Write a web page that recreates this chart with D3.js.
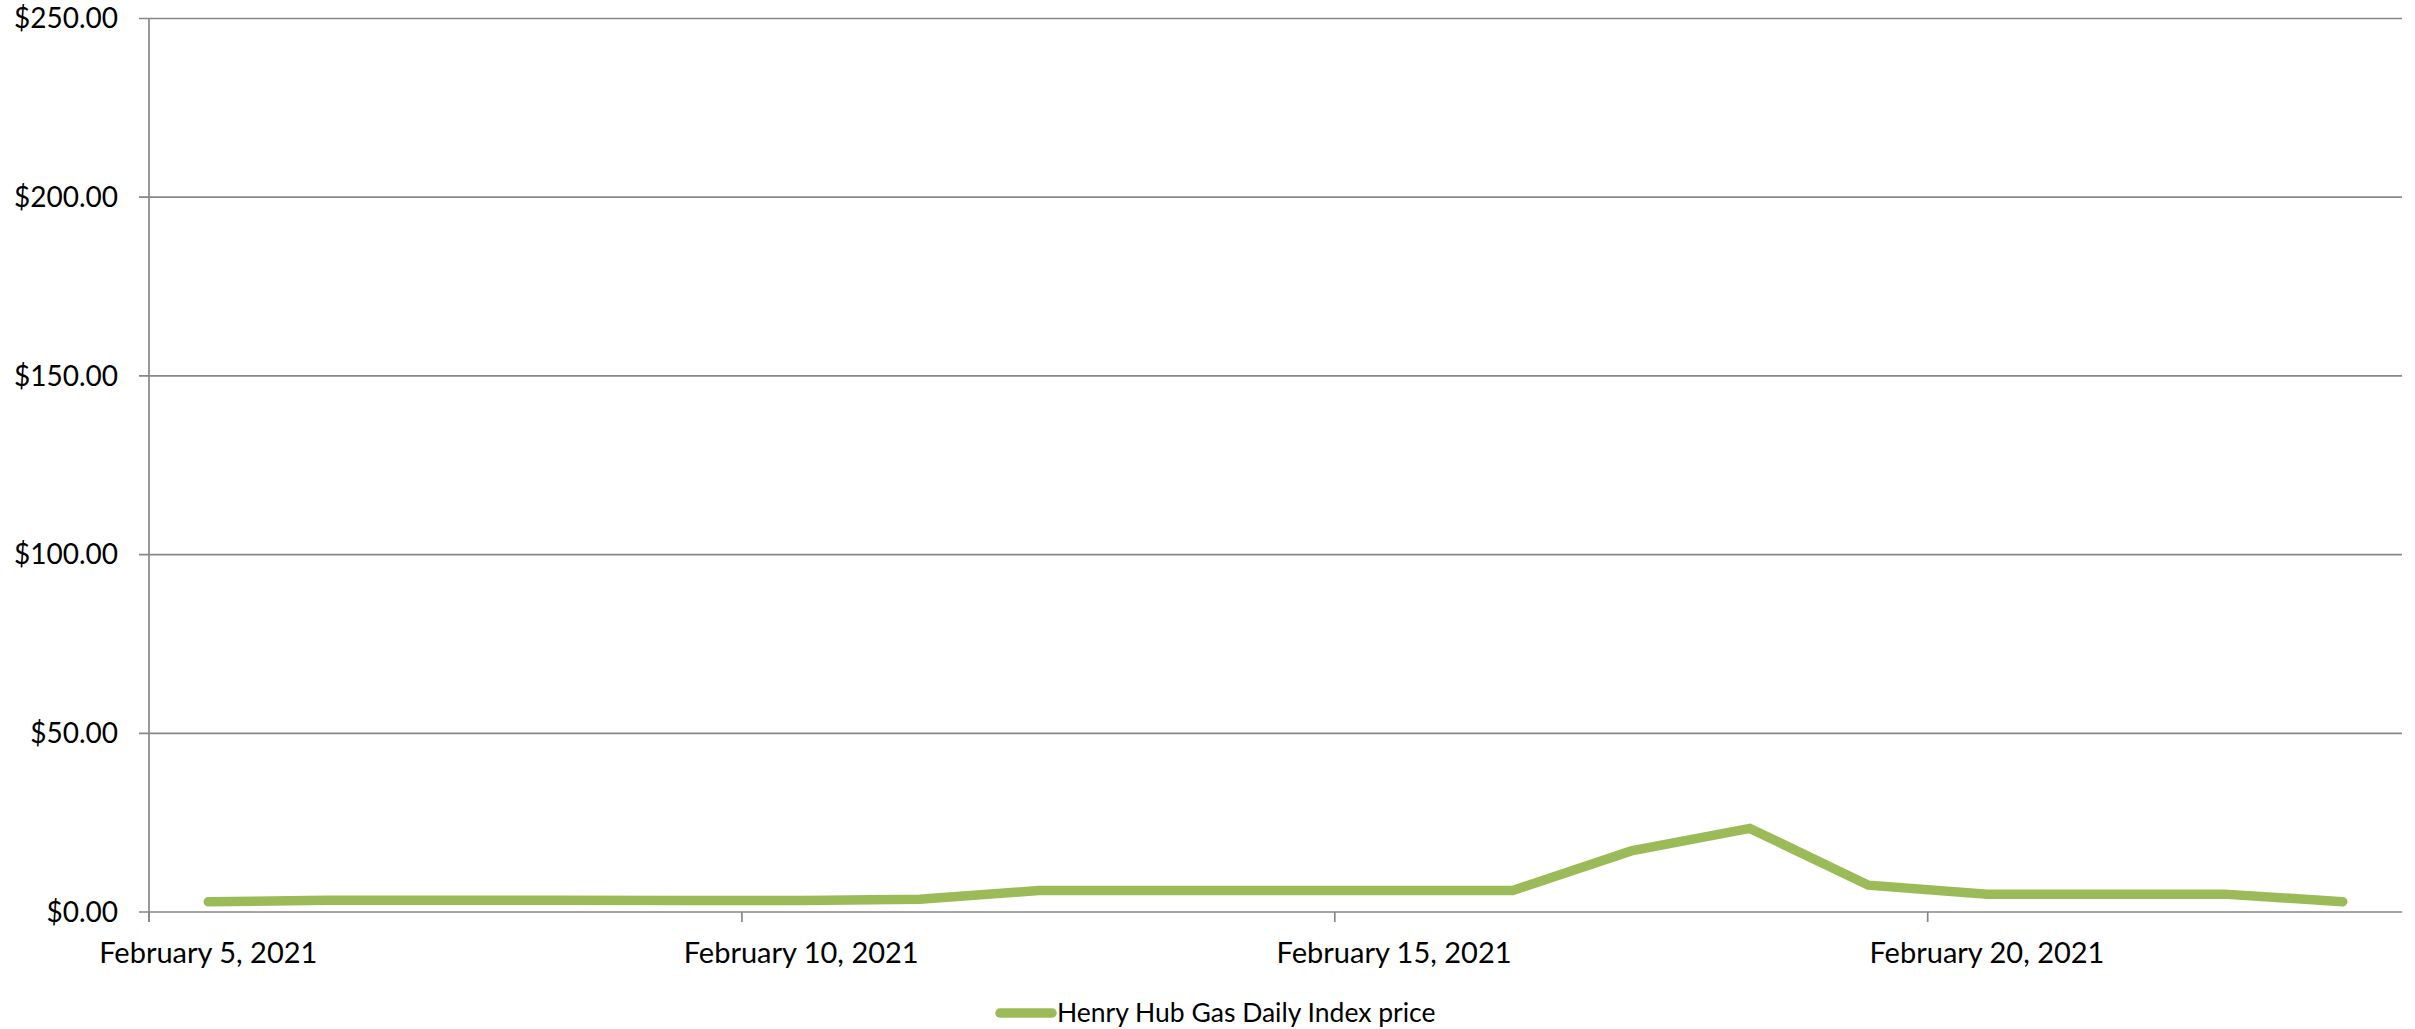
<!DOCTYPE html>
<html>
<head>
<meta charset="utf-8">
<script src="https://cdn.jsdelivr.net/npm/d3@7"></script>
<style>
  html, body { margin: 0; padding: 0; background: #fff; }
  svg { display: block; }
  text { font-family: Lato, "Open Sans", sans-serif; fill: #000; }
</style>
</head>
<body>
<svg id="chart" width="2415" height="1029"></svg>
<script>
// ---- data ----
const dates = ["2021-02-05","2021-02-06","2021-02-07","2021-02-08","2021-02-09","2021-02-10","2021-02-11",
  "2021-02-12","2021-02-13","2021-02-14","2021-02-15","2021-02-16","2021-02-17","2021-02-18",
  "2021-02-19","2021-02-20","2021-02-21","2021-02-22","2021-02-23"];
const prices = [2.85, 3.3, 3.3, 3.3, 3.2, 3.2, 3.6, 6.0, 6.0, 6.0, 6.0, 6.0, 17.1, 23.4, 7.5, 5.0, 5.0, 5.0, 2.9];
const yTicks = [0, 50, 100, 150, 200, 250];
const labelDates = ["2021-02-05", "2021-02-10", "2021-02-15", "2021-02-20"];
const seriesName = "Henry Hub Gas Daily Index price";

// ---- layout ----
const plotLeft = 149, plotRight = 2402, plotTop = 18.5, plotBottom = 912;
const svg = d3.select("#chart");
const parse = d3.timeParse("%Y-%m-%d");
const fmtDate = d3.timeFormat("%B %-d, %Y");

const x = d3.scaleBand().domain(dates).range([plotLeft, plotRight]).padding(0);
const y = d3.scaleLinear().domain([0, 250]).range([plotBottom, plotTop]);
const gridColor = "#878787";

// gridlines
svg.append("g").selectAll("line").data(yTicks).join("line")
  .attr("x1", plotLeft - 10).attr("x2", plotRight)
  .attr("y1", d => y(d)).attr("y2", d => y(d))
  .attr("stroke", gridColor).attr("stroke-width", 1.7);

// y axis line
svg.append("line").attr("x1", plotLeft).attr("x2", plotLeft)
  .attr("y1", plotTop).attr("y2", plotBottom + 10)
  .attr("stroke", gridColor).attr("stroke-width", 1.7);

// y labels
svg.append("g").selectAll("text").data(yTicks).join("text")
  .attr("x", 118).attr("y", d => y(d)).attr("dy", "0.35em")
  .attr("text-anchor", "end").attr("font-size", 28)
  .text(d => "$" + d3.format(".2f")(d));

// x tick marks at category boundaries
svg.append("g").selectAll("line").data(labelDates).join("line")
  .attr("x1", d => x(d)).attr("x2", d => x(d))
  .attr("y1", plotBottom).attr("y2", plotBottom + 10)
  .attr("stroke", gridColor).attr("stroke-width", 1.7);

// x labels centered on categories
svg.append("g").selectAll("text").data(labelDates).join("text")
  .attr("x", d => x(d) + x.bandwidth() / 2).attr("y", 963)
  .attr("text-anchor", "middle").attr("font-size", 29)
  .text(d => fmtDate(parse(d)));

// series line
const line = d3.line()
  .x((d, i) => x(dates[i]) + x.bandwidth() / 2)
  .y(d => y(d));
svg.append("path").datum(prices)
  .attr("d", line)
  .attr("fill", "none").attr("stroke", "#9bbb59")
  .attr("stroke-width", 9.5).attr("stroke-linecap", "round").attr("stroke-linejoin", "miter");

// legend
const lg = svg.append("g");
lg.append("line").attr("x1", 1000).attr("x2", 1052).attr("y1", 1013).attr("y2", 1013)
  .attr("stroke", "#9bbb59").attr("stroke-width", 9.5).attr("stroke-linecap", "round");
lg.append("text").attr("x", 1057).attr("y", 1013).attr("dy", "0.35em")
  .attr("font-size", 26.5).text(seriesName);
</script>
</body>
</html>
